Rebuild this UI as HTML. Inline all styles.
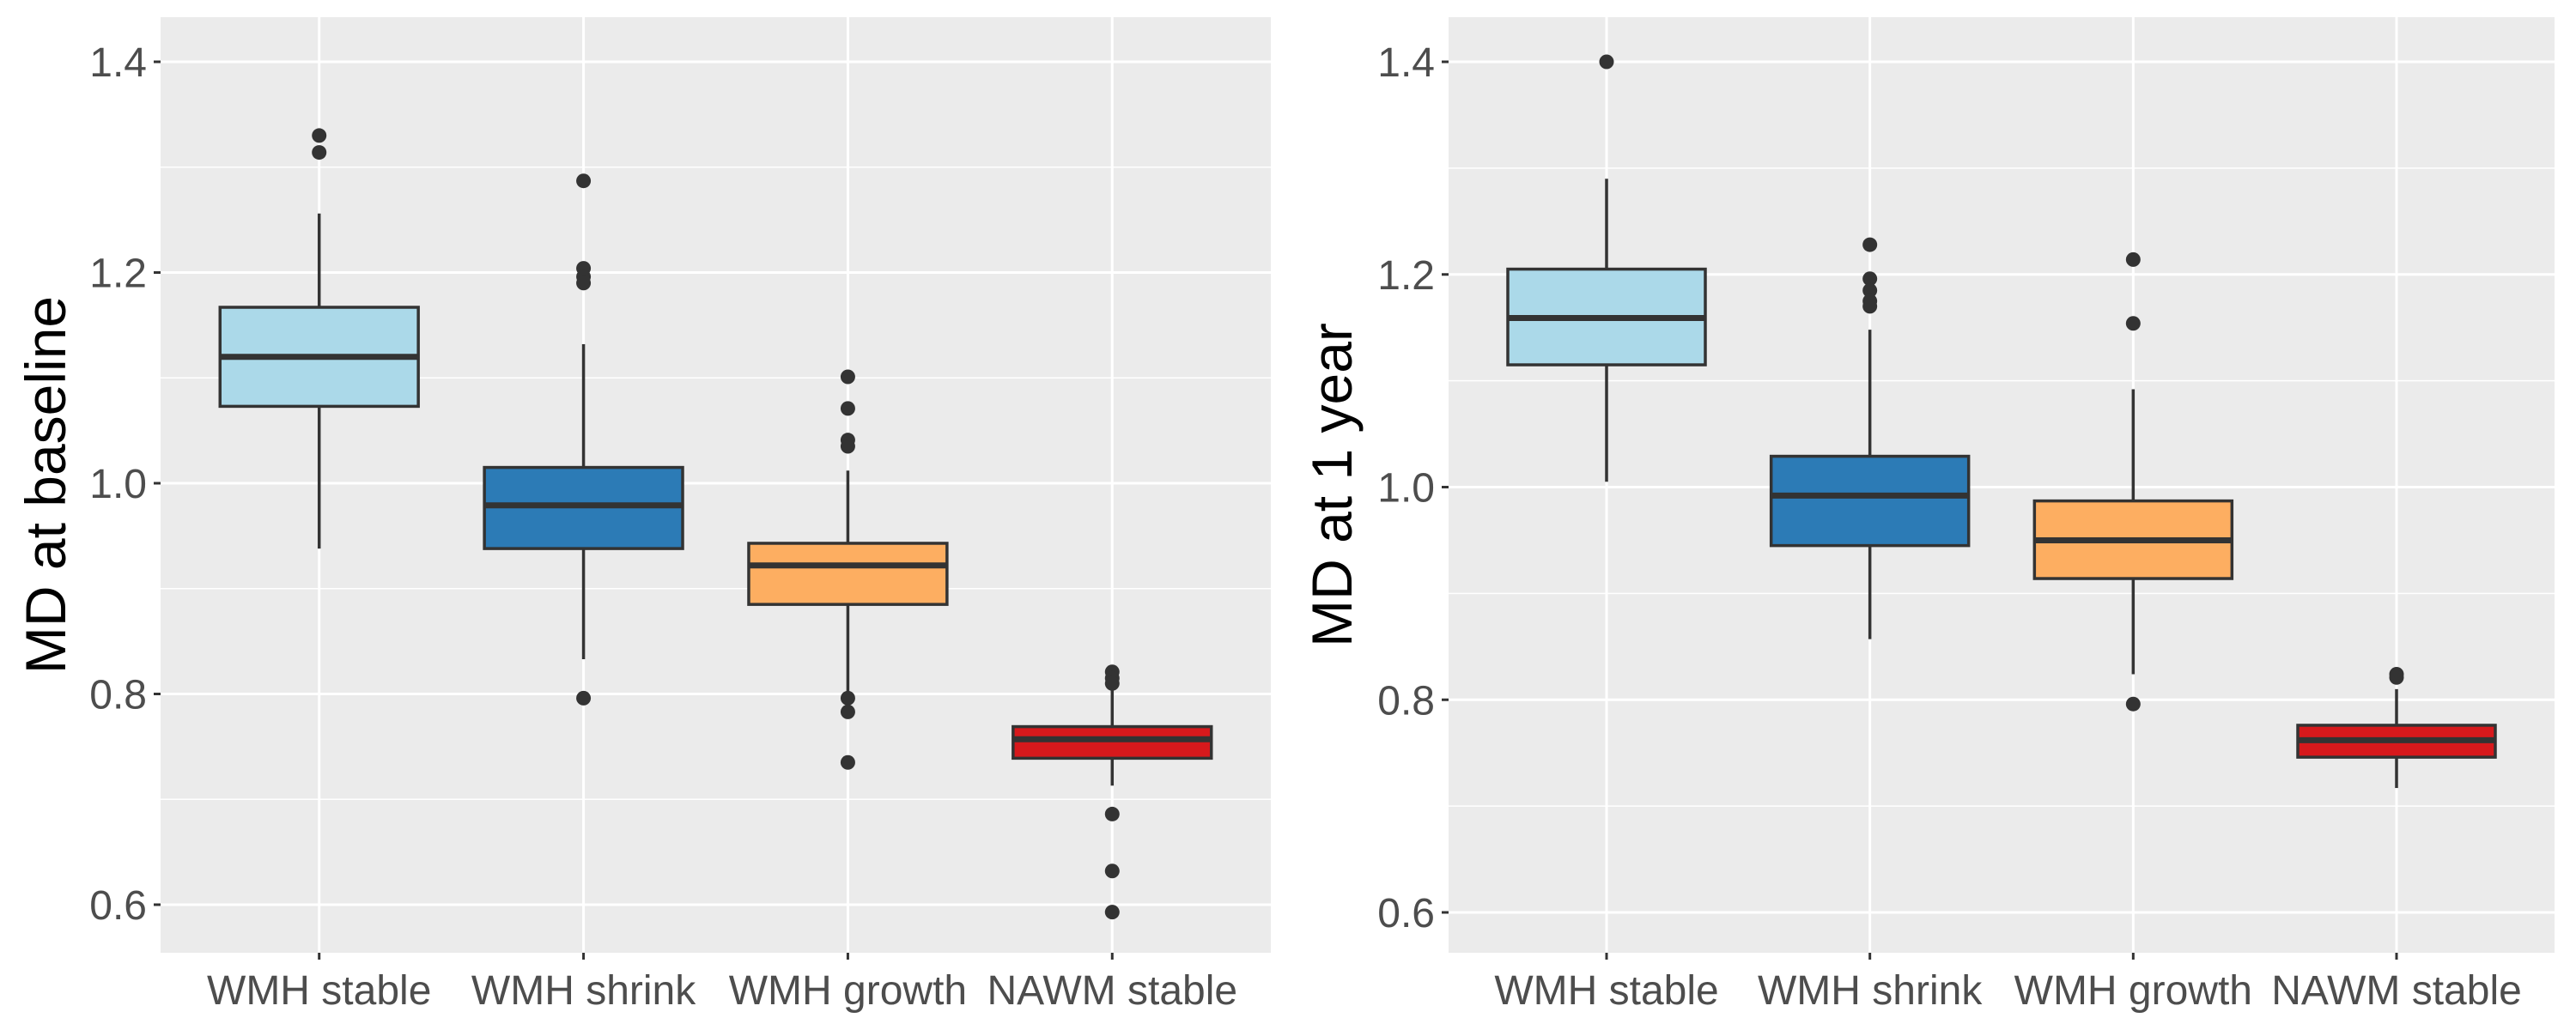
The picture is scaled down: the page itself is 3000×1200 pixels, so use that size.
<!DOCTYPE html>
<html><head><meta charset="utf-8"><style>
html,body{margin:0;padding:0;background:#fff;}
svg{display:block;font-family:"Liberation Sans",Arial,sans-serif;}
</style></head><body>
<svg id="c" width="3000" height="1200" viewBox="0 0 3000 1200"></svg>
<script>
const categories = ["WMH stable","WMH shrink","WMH growth","NAWM stable"];
const fills = ["#abd9e9","#2c7bb6","#fdae61","#d7191c"];
const yTicks = [0.6,0.8,1.0,1.2,1.4];
const yTickLabels = ["0.6","0.8","1.0","1.2","1.4"];
// baseline: [lowWhisker, Q1, median, Q3, highWhisker]
const baseStats = [
  [0.938,1.073,1.120,1.167,1.256],
  [0.833,0.938,0.979,1.015,1.132],
  [0.802,0.885,0.922,0.943,1.012],
  [0.713,0.739,0.757,0.769,0.805]
];
const baseOutliers = [
  [1.330,1.314],
  [1.287,1.204,1.196,1.190,0.796],
  [1.101,1.071,1.041,1.035,0.796,0.783,0.735],
  [0.821,0.815,0.810,0.686,0.632,0.593]
];
const yearStats = [
  [1.005,1.115,1.159,1.205,1.290],
  [0.857,0.945,0.992,1.029,1.148],
  [0.824,0.914,0.950,0.987,1.092],
  [0.717,0.746,0.762,0.776,0.810]
];
const yearOutliers = [
  [1.400],
  [1.228,1.196,1.185,1.175,1.170],
  [1.214,1.154,0.796],
  [0.824,0.821]
];
const NS="http://www.w3.org/2000/svg";
const svg=document.getElementById('c');
function mk(tag,attrs,parent){const e=document.createElementNS(NS,tag);for(const k in attrs)e.setAttribute(k,attrs[k]);(parent||svg).appendChild(e);return e;}
function panel(opt){
  const g=mk('g',{});
  
  
  const x0=opt.x0,x1=opt.x1,top=20,bot=1110;
  const y=v=>opt.y14+(1.4-v)*(opt.y06-opt.y14)/0.8;
  const bw=(x1-x0)/(categories.length+0.2);
  const xc=i=>x0+bw*(0.6+i);
  const bg=mk('rect',{x:x0,y:top,width:x1-x0,height:bot-top,fill:'#ebebeb'},g);
  
  
  for(let i=0;i<yTicks.length-1;i++){const v=(yTicks[i]+yTicks[i+1])/2;mk('line',{x1:x0,x2:x1,y1:y(v),y2:y(v),stroke:'#fff','stroke-width':1.5},g);}
  yTicks.forEach((v,i)=>{
    mk('line',{x1:x0,x2:x1,y1:y(v),y2:y(v),stroke:'#fff','stroke-width':3},g);
    mk('line',{x1:x0-8,x2:x0,y1:y(v),y2:y(v),stroke:'#333','stroke-width':3},g);
    const t=mk('text',{x:x0-16,y:y(v)+17,'text-anchor':'end','font-size':48,fill:'#4d4d4d'},g);
    t.textContent=yTickLabels[i];
    
    
  });
  categories.forEach((c,i)=>{
    mk('line',{x1:xc(i),x2:xc(i),y1:top,y2:bot,stroke:'#fff','stroke-width':3},g);
    mk('line',{x1:xc(i),x2:xc(i),y1:bot,y2:bot+8,stroke:'#333','stroke-width':3},g);
    const t=mk('text',{x:xc(i),y:1170,'text-anchor':'middle','font-size':48,fill:'#4d4d4d'},g);
    t.textContent=c;
    
    
  });
  const half=bw*0.75/2;
  opt.stats.forEach((s,i)=>{
    const bg2=mk('g',{},g);
    
    
    mk('line',{x1:xc(i),x2:xc(i),y1:y(s[4]),y2:y(s[3]),stroke:'#333','stroke-width':3.5},bg2);
    mk('line',{x1:xc(i),x2:xc(i),y1:y(s[1]),y2:y(s[0]),stroke:'#333','stroke-width':3.5},bg2);
    mk('rect',{x:xc(i)-half,y:y(s[3]),width:2*half,height:y(s[1])-y(s[3]),fill:fills[i],stroke:'#333','stroke-width':3.5},bg2);
    mk('line',{x1:xc(i)-half,x2:xc(i)+half,y1:y(s[2]),y2:y(s[2]),stroke:'#333','stroke-width':7},bg2);
    opt.outliers[i].forEach(v=>{
      const p=mk('circle',{cx:xc(i),cy:y(v),r:8.5,fill:'#333'},bg2);
      
      
    });
  });
  const tt=mk('text',{x:0,y:0,'text-anchor':'middle','font-size':opt.titleSize,fill:'#000',transform:`translate(${opt.titleX},${(top+bot)/2}) rotate(-90)`},g);
  tt.textContent=opt.title;
  
  
}
panel({name:'baseline-panel',x0:187,x1:1480,y14:72,y06:1054,stats:baseStats,outliers:baseOutliers,title:'MD at baseline',titleX:76,titleSize:66});
panel({name:'one-year-panel',x0:1687,x1:2975,y14:72,y06:1063,stats:yearStats,outliers:yearOutliers,title:'MD at 1 year',titleX:1574,titleSize:66});
</script>
</body></html>
